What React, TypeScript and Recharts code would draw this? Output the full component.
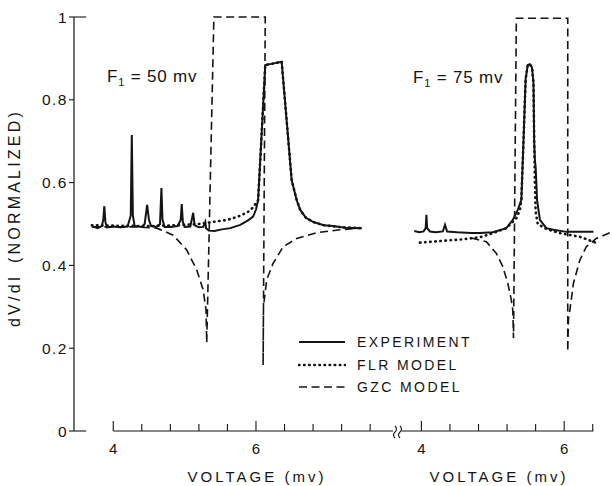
import { LineChart, Line, XAxis, YAxis, ReferenceLine, Legend } from 'recharts'

type Pt = [number, number]

// F1 = 50 mV panel (voltage mV, normalized dV/dI)
const EXP_50: Pt[] = [
  [3.7, 0.495], [3.78, 0.49], [3.84, 0.495], [3.86, 0.51], [3.875, 0.543], [3.89, 0.505], [3.91, 0.492],
  [4.0, 0.494], [4.1, 0.492], [4.2, 0.494], [4.245, 0.52], [4.26, 0.715], [4.275, 0.52], [4.3, 0.495],
  [4.4, 0.493], [4.44, 0.5], [4.475, 0.546], [4.5, 0.51], [4.53, 0.495], [4.6, 0.493], [4.655, 0.5],
  [4.675, 0.587], [4.69, 0.51], [4.72, 0.493], [4.8, 0.493], [4.9, 0.495], [4.945, 0.51], [4.96, 0.548],
  [4.975, 0.505], [5.0, 0.493], [5.08, 0.494], [5.12, 0.527], [5.14, 0.497], [5.2, 0.492], [5.26, 0.493],
  [5.29, 0.505], [5.3, 0.49], [5.34, 0.484], [5.42, 0.483], [5.52, 0.487], [5.64, 0.49], [5.78, 0.498],
  [5.9, 0.51], [5.96, 0.518], [6.0, 0.535], [6.03, 0.558], [6.08, 0.72], [6.13, 0.884], [6.25, 0.888],
  [6.36, 0.892], [6.43, 0.75], [6.5, 0.606], [6.57, 0.558], [6.62, 0.534], [6.7, 0.515], [6.8, 0.505],
  [6.95, 0.497], [7.08, 0.495], [7.25, 0.491], [7.48, 0.49],
]
const FLR_50: Pt[] = [
  [3.7, 0.497], [4.0, 0.496], [4.5, 0.495], [4.9, 0.497], [5.2, 0.5], [5.4, 0.505], [5.6, 0.51],
  [5.75, 0.518], [5.88, 0.528], [5.96, 0.54], [6.03, 0.558], [6.08, 0.72], [6.13, 0.884], [6.25, 0.888],
  [6.36, 0.892], [6.43, 0.75], [6.5, 0.606], [6.57, 0.558], [6.62, 0.534], [6.7, 0.515], [6.8, 0.505],
  [6.95, 0.497], [7.2, 0.492], [7.48, 0.49],
]
const GZC_50: Pt[] = [
  [3.7, 0.493], [4.3, 0.493], [4.61, 0.49], [4.84, 0.473], [5.03, 0.437], [5.17, 0.389], [5.26, 0.341],
  [5.3, 0.292], [5.31, 0.213], [5.41, 1.0], [6.13, 1.0], [6.1, 0.159], [6.105, 0.3], [6.15, 0.365],
  [6.24, 0.405], [6.38, 0.445], [6.57, 0.465], [6.85, 0.479], [7.18, 0.486], [7.48, 0.49],
]

// F1 = 75 mV panel
const EXP_75: Pt[] = [
  [3.9, 0.483], [3.97, 0.48], [4.03, 0.482], [4.06, 0.49], [4.07, 0.522], [4.08, 0.49], [4.12, 0.482],
  [4.2, 0.48], [4.3, 0.482], [4.33, 0.498], [4.36, 0.482], [4.5, 0.48], [4.7, 0.478], [4.82, 0.478],
  [5.0, 0.48], [5.19, 0.49], [5.28, 0.51], [5.35, 0.534], [5.4, 0.558], [5.43, 0.7], [5.46, 0.85],
  [5.49, 0.884], [5.52, 0.886], [5.55, 0.878], [5.57, 0.84], [5.58, 0.7], [5.59, 0.655], [5.6, 0.638],
  [5.61, 0.6], [5.62, 0.558], [5.66, 0.51], [5.75, 0.49], [5.85, 0.486], [6.03, 0.481], [6.2, 0.481],
  [6.41, 0.481],
]
const FLR_75: Pt[] = [
  [3.98, 0.455], [4.58, 0.463], [4.82, 0.468], [5.0, 0.478], [5.19, 0.49], [5.33, 0.514], [5.38, 0.534],
  [5.4, 0.558], [5.43, 0.7], [5.46, 0.85], [5.49, 0.884], [5.52, 0.886], [5.55, 0.878], [5.57, 0.84],
  [5.58, 0.7], [5.59, 0.6], [5.6, 0.53], [5.63, 0.5], [5.75, 0.488], [5.94, 0.478], [6.22, 0.469],
  [6.41, 0.457], [6.45, 0.454],
]
const GZC_75: Pt[] = [
  [4.7, 0.466], [4.91, 0.457], [5.05, 0.429], [5.14, 0.397], [5.21, 0.357], [5.26, 0.316], [5.28, 0.292],
  [5.29, 0.224], [5.33, 0.997], [6.05, 0.997], [6.05, 0.192], [6.06, 0.27], [6.08, 0.292], [6.13, 0.357],
  [6.22, 0.413], [6.31, 0.445], [6.45, 0.465], [6.67, 0.481],
]

const TICKS_50 = [4, 4.4, 4.8, 5.2, 5.6, 6, 6.4, 6.8, 7.2, 7.6]
const TICKS_75 = [4, 4.4, 4.8, 5.2, 5.6, 6, 6.4]
const LABELED_TICKS = [4, 6]
const Y_TICKS = [0, 0.2, 0.4, 0.6, 0.8, 1]

const INK = '#141414'
const FONT = '"Liberation Sans", Arial, sans-serif'

const LINE_STYLE = {
  exp: { strokeWidth: 2 },
  flr: { strokeWidth: 2.6, strokeDasharray: '0.5 4.6', strokeLinecap: 'round' as const },
  gzc: { strokeWidth: 1.6, strokeDasharray: '8 4.5' },
}

const LEGEND_ITEMS = [
  { name: 'EXPERIMENT', style: LINE_STYLE.exp },
  { name: 'FLR MODEL', style: LINE_STYLE.flr },
  { name: 'GZC MODEL', style: LINE_STYLE.gzc },
]

const toRows = (pts: Pt[]) => pts.map(([x, y]) => ({ x, y }))

function VoltTick({ x, y, payload }: any) {
  const major = LABELED_TICKS.includes(payload.value)
  return (
    <g>
      <line x1={x} x2={x} y1={y} y2={y - (major ? 10 : 7)} stroke={INK} strokeWidth={1.1} />
      {major && (
        <text x={x} y={y + 23} textAnchor="middle" fontSize={15} fill={INK} fontFamily={FONT}>
          {payload.value}
        </text>
      )}
    </g>
  )
}

function LegendBox() {
  return (
    <div style={{ fontFamily: FONT, fontSize: 14, letterSpacing: 2.4, color: INK }}>
      {LEGEND_ITEMS.map((item) => (
        <div key={item.name} style={{ display: 'flex', alignItems: 'center', height: 22.5 }}>
          <svg width={48} height={10}>
            <line x1={1} x2={47} y1={5} y2={5} stroke={INK} {...item.style} />
          </svg>
          <span style={{ marginLeft: 11 }}>{item.name}</span>
        </div>
      ))}
    </div>
  )
}

function Series({ data, kind }: { data: Pt[]; kind: 'exp' | 'flr' | 'gzc' }) {
  return (
    <Line
      data={toRows(data)}
      dataKey="y"
      type="linear"
      stroke={INK}
      dot={false}
      activeDot={false}
      isAnimationActive={false}
      {...LINE_STYLE[kind]}
    />
  )
}

const textStyle = { position: 'absolute' as const, fontFamily: FONT, color: INK, whiteSpace: 'nowrap' as const }

export default function App() {
  return (
    <div style={{ position: 'absolute', left: 0, top: 0, width: 612, height: 486, background: '#fff' }}>
      <div style={{ position: 'absolute', left: 0, top: 0 }}>
        <LineChart width={612} height={486} margin={{ top: 17, right: 219, bottom: 0, left: 0 }}>
          <XAxis
            type="number"
            dataKey="x"
            domain={[3.45, 7.92]}
            ticks={TICKS_50}
            interval={0}
            height={55}
            axisLine={false}
            tickLine={false}
            tickSize={0}
            tickMargin={0}
            tick={(p: any) => <VoltTick {...p} />}
          />
          <YAxis
            type="number"
            domain={[0, 1]}
            ticks={Y_TICKS}
            width={74}
            tickSize={5}
            tickMargin={1}
            axisLine={{ stroke: INK, strokeWidth: 1.2 }}
            tickLine={{ stroke: INK, strokeWidth: 1.1 }}
            tick={{ fill: INK, fontSize: 15.5, fontFamily: FONT, letterSpacing: 1.5 }}
            tickFormatter={(v: number) => (v === 0 || v === 1 ? String(v) : v.toFixed(1))}
          />
          <ReferenceLine segment={[{ x: 4, y: 0 }, { x: 7.92, y: 0 }]} stroke={INK} strokeWidth={1.2} />
          <ReferenceLine segment={[{ x: 3.45, y: 0 }, { x: 3.62, y: 0 }]} stroke={INK} strokeWidth={1.1} />
          <ReferenceLine segment={[{ x: 3.45, y: 1 }, { x: 3.62, y: 1 }]} stroke={INK} strokeWidth={1.1} />
          <Series data={GZC_50} kind="gzc" />
          <Series data={FLR_50} kind="flr" />
          <Series data={EXP_50} kind="exp" />
          <Legend
            layout="horizontal"
            verticalAlign="middle"
            align="center"
            content={() => <LegendBox />}
            wrapperStyle={{ left: 298, top: 331, width: 'auto' }}
          />
        </LineChart>
      </div>

      <div style={{ position: 'absolute', left: 400, top: 0 }}>
        <LineChart width={212} height={486} margin={{ top: 17, right: 0, bottom: 0, left: 0 }}>
          <XAxis
            type="number"
            dataKey="x"
            domain={[3.7, 6.67]}
            allowDataOverflow
            ticks={TICKS_75}
            interval={0}
            height={55}
            axisLine={false}
            tickLine={false}
            tickSize={0}
            tickMargin={0}
            tick={(p: any) => <VoltTick {...p} />}
          />
          <YAxis type="number" domain={[0, 1]} hide />
          <ReferenceLine segment={[{ x: 3.72, y: 0 }, { x: 6.41, y: 0 }]} stroke={INK} strokeWidth={1.2} />
          <Series data={GZC_75} kind="gzc" />
          <Series data={FLR_75} kind="flr" />
          <Series data={EXP_75} kind="exp" />
        </LineChart>
      </div>

      <svg style={{ position: 'absolute', left: 391, top: 424 }} width={14} height={16}>
        <path d="M4 2 q3 3 0 6 q-3 3 0 6" fill="none" stroke={INK} strokeWidth={1.1} />
        <path d="M9 2 q3 3 0 6 q-3 3 0 6" fill="none" stroke={INK} strokeWidth={1.1} />
      </svg>

      <div style={{ ...textStyle, left: 107, top: 68, fontSize: 17, lineHeight: '17px', letterSpacing: 0.8 }}>
        F<sub style={{ fontSize: 11 }}>1</sub> = 50 mv
      </div>
      <div style={{ ...textStyle, left: 413, top: 69, fontSize: 17, lineHeight: '17px', letterSpacing: 0.8 }}>
        F<sub style={{ fontSize: 11 }}>1</sub> = 75 mv
      </div>

      <div style={{ ...textStyle, left: 157, width: 200, top: 469, textAlign: 'center', fontSize: 15, lineHeight: '15px', letterSpacing: 3 }}>
        VOLTAGE (mv)
      </div>
      <div style={{ ...textStyle, left: 399, width: 200, top: 469, textAlign: 'center', fontSize: 15, lineHeight: '15px', letterSpacing: 3 }}>
        VOLTAGE (mv)
      </div>

      <div
        style={{
          ...textStyle,
          left: 15,
          top: 218,
          fontSize: 16,
          letterSpacing: 3.2,
          wordSpacing: 3,
          transform: 'translate(-50%, -50%) rotate(-90deg)',
        }}
      >
        dV/dI (NORMALIZED)
      </div>
    </div>
  )
}
